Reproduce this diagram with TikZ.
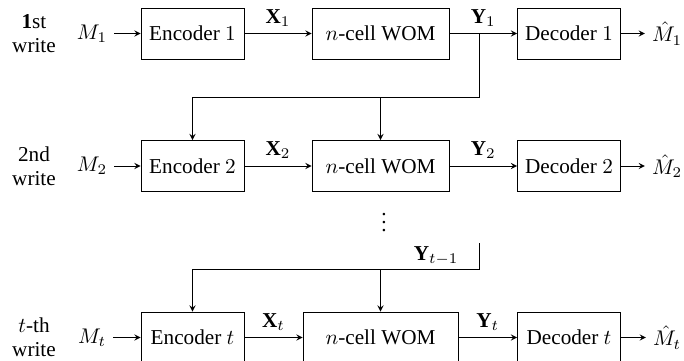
\RequirePackage{fix-cm}
\documentclass[tikz,border=0pt]{standalone}
\usepackage{fontspec}
\setmainfont{Liberation Serif}
\usetikzlibrary{positioning}
\begin{document}
\begin{tikzpicture}[x=.5pt,y=-.5pt,>=stealth,font=\fontsize{10.6}{12}\selectfont,
  blk/.style={draw,minimum width=51.5pt,minimum height=25.5pt,inner sep=0pt}]
  \useasboundingbox (0,0) rectangle (684,360);
  \def\xe{192.5} \def\xw{380.5} \def\xd{569}
  % one row per write
  \foreach \y/\s/\ww/\nth in {33.5/1/68.5/{\textbf{1}st},166/2/68.5/2nd,337.5/t/77.5/{$t$-th}}{
    \node[align=center] (lab\s) at (34,\y) {\nth\\write};
    \node (m\s) at (92,\y) {$M_\s$};
    \node[blk] (enc\s) at (\xe,\y) {Encoder $\s$};
    \node[blk,minimum width=\ww pt] (wom\s) at (\xw,\y) {$n$-cell WOM};
    \node[blk] (dec\s) at (\xd,\y) {Decoder $\s$};
    \node (mh\s) at (667,\y) {$\hat{M}_\s$};
    \draw[->] (m\s) -- (enc\s);
    \draw[->] (enc\s) -- node[above]{$\mathbf{X}_\s$} (wom\s);
    \draw[->] (wom\s) -- node[above]{$\mathbf{Y}_\s$} (dec\s);
    \draw[->] (dec\s) -- (mh\s);
  }
  % feedback to the 2nd write
  \coordinate (br1) at (479,33.5);
  \coordinate (fb1) at (479,97);
  \draw (br1) -- (fb1) -- (fb1 -| enc2);
  \draw[->] (fb1 -| enc2) -- (enc2);
  \draw[->] (fb1 -| wom2) -- (wom2);
  \node (dots) at (384,217) {$\vdots$};
  % feedback to the t-th write
  \coordinate (brt) at (479,243);
  \coordinate (fbt) at (479,269);
  \node (ylast) at (436,256) {$\mathbf{Y}_{t-1}$};
  \draw (brt) -- (fbt) -- (fbt -| enct);
  \draw[->] (fbt -| enct) -- (enct);
  \draw[->] (fbt -| womt) -- (womt);
\end{tikzpicture}
\end{document}
